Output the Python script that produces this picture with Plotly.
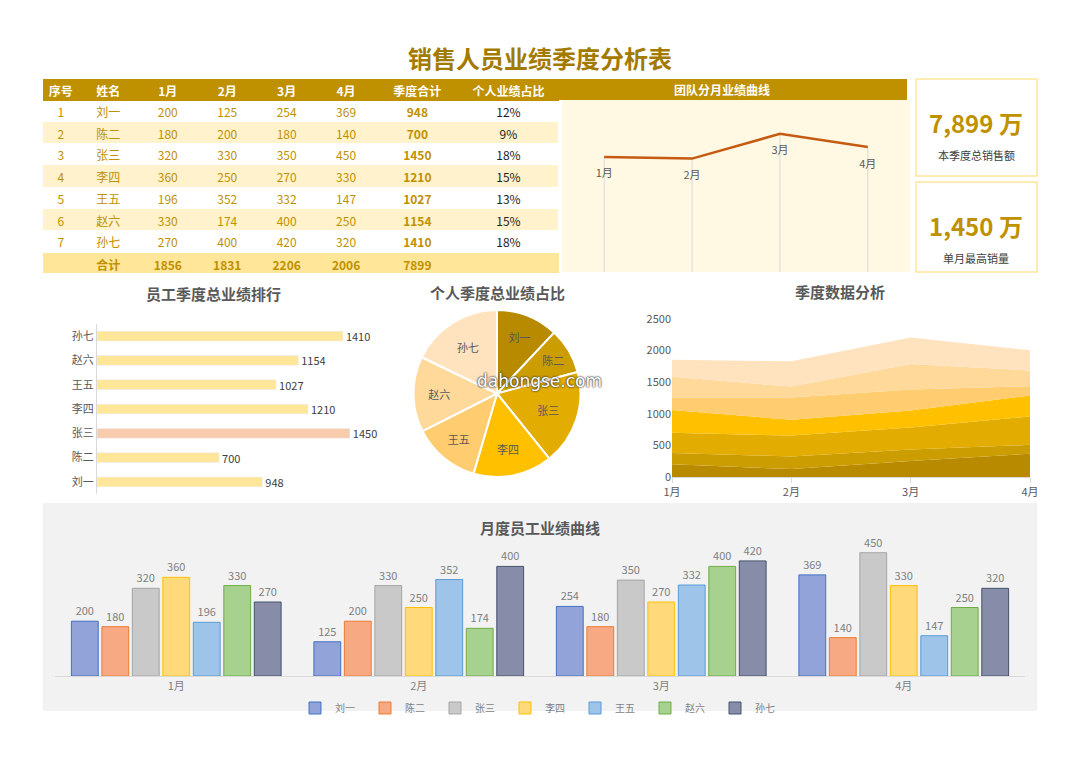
import plotly.graph_objects as go

# data
names = ["刘一", "陈二", "张三", "李四", "王五", "赵六", "孙七"]
months = ["1月", "2月", "3月", "4月"]
m1 = [200, 180, 320, 360, 196, 330, 270]
m2 = [125, 200, 330, 250, 352, 174, 400]
m3 = [254, 180, 350, 270, 332, 400, 420]
m4 = [369, 140, 450, 330, 147, 250, 320]
totals = [948, 700, 1450, 1210, 1027, 1154, 1410]
shares = ["12%", "9%", "18%", "15%", "13%", "15%", "18%"]
month_totals = [1856, 1831, 2206, 2006]
grand_total = 7899
top_single = 1450

W, H = 1080, 763
FONT = "Noto Sans CJK SC"
GOLD = "#BF9000"
TITLE_GOLD = "#A37A00"
GREY_T = "#7F7F7F"
OFF = 8  # page body margin

def px(x):
    return (x - OFF) / W

def py(y):
    return 1 - (y - OFF) / H

fig = go.Figure()

# ---- table ----
n = len(names)
cw = [36, 60, 60, 60, 60, 60, 84, 100]
cols = [[str(i + 1) for i in range(n)], names] + [[str(v) for v in m] for m in [m1, m2, m3, m4]]
cols += [[str(v) for v in totals], shares]
fills = ["white" if i % 2 == 0 else "#FFF2CC" for i in range(n)]
fig.add_trace(go.Table(
    domain=dict(x=[px(43), px(558)], y=[py(253), py(79)]),
    columnwidth=cw,
    header=dict(values=["序号", "姓名", "1月", "2月", "3月", "4月", "季度合计", "个人业绩占比"],
                fill_color=GOLD, line_color=GOLD, height=21,
                font=dict(color="white", size=12, family=FONT, weight="bold"), align="center"),
    cells=dict(values=cols, fill_color=[fills] * 8, line_color="rgba(0,0,0,0)", height=21.7,
               font=dict(color=[GOLD] * 7 + ["#222222"], size=12, family=FONT,
                         weight=["normal"] * 6 + ["bold", "normal"]), align="center"),
))
fig.add_trace(go.Table(
    domain=dict(x=[px(43), px(558)], y=[py(274), py(253)]),
    columnwidth=cw,
    header=dict(values=["", "合计"] + [str(v) for v in month_totals] + [str(grand_total), ""],
                fill_color="#FFE699", line_color="#FFE699", height=21,
                font=dict(color=GOLD, size=12, family=FONT, weight="bold"), align="center"),
    cells=dict(values=[[] for _ in cw]),
))

# ---- team line chart ----
fig.add_shape(type="rect", xref="paper", yref="paper", x0=px(558), x1=px(907), y0=py(100), y1=py(79),
              fillcolor=GOLD, line_width=0)
fig.add_shape(type="rect", xref="paper", yref="paper", x0=px(562), x1=px(910), y0=py(272), y1=py(100),
              fillcolor="#FFF9E3", line_width=0, layer="below")
fig.add_annotation(x=px(722), y=py(89), xref="paper", yref="paper", text="<b>团队分月业绩曲线</b>",
                   showarrow=False, xanchor="center", yanchor="middle",
                   font=dict(color="white", size=12, family=FONT))
for m, v in zip(months, month_totals):
    fig.add_trace(go.Scatter(x=[m, m], y=[0, v], mode="lines", line=dict(color="#D9D9D9", width=1),
                             xaxis="x2", yaxis="y2", showlegend=False, hoverinfo="skip"))
fig.add_trace(go.Scatter(x=months, y=month_totals, mode="lines",
                         line=dict(color="#C55A11", width=2.5), xaxis="x2", yaxis="y2", showlegend=False))
# month labels under each point (invisible marker pushes text down)
fig.add_trace(go.Scatter(x=months, y=month_totals, mode="markers+text", text=months,
                         marker=dict(size=18, color="rgba(0,0,0,0)"),
                         textposition="bottom center", textfont=dict(color="#595959", size=11, family=FONT),
                         xaxis="x2", yaxis="y2", showlegend=False, hoverinfo="skip"))

# ---- KPI boxes ----
for (y0, y1, val, lab) in [(79, 176, f"{grand_total:,} 万", "本季度总销售额"),
                           (182, 272, f"{top_single:,} 万", "单月最高销量")]:
    fig.add_shape(type="rect", xref="paper", yref="paper", x0=px(916), x1=px(1037), y0=py(y1), y1=py(y0),
                  line=dict(color="#FFE699", width=1.5), fillcolor="rgba(0,0,0,0)")
    fig.add_annotation(x=px(976), y=py(y0 + 43), xref="paper", yref="paper", text=f"<b>{val}</b>",
                       showarrow=False, xanchor="center", yanchor="middle",
                       font=dict(color=GOLD, size=24, family=FONT))
    fig.add_annotation(x=px(976), y=py(y0 + 76), xref="paper", yref="paper", text=lab,
                       showarrow=False, xanchor="center", yanchor="middle",
                       font=dict(color="#404040", size=11, family=FONT))

# ---- ranking bar ----
bar_colors = ["#F8CBAD" if v == max(totals) else "#FFE699" for v in totals]
fig.add_trace(go.Bar(y=names, x=totals, orientation="h", marker_color=bar_colors, width=0.4,
                     text=totals, textposition="outside", cliponaxis=False, constraintext="none",
                     textfont=dict(color="#404040", size=11, family=FONT),
                     xaxis="x3", yaxis="y3", showlegend=False))

# ---- pie ----
pie_colors = ["#B88A00", "#CC9D00", "#E2AC00", "#FFC000", "#FFCC70", "#FFD99A", "#FFE3BF"]
fig.add_trace(go.Pie(labels=names, values=totals, sort=False, direction="clockwise", rotation=0,
                     marker=dict(colors=pie_colors, line=dict(color="white", width=2)),
                     textinfo="label", textposition="inside", insidetextorientation="horizontal",
                     textfont=dict(color="#595959", size=11, family=FONT),
                     domain=dict(x=[px(405), px(589)], y=[py(477), py(310)]), showlegend=False))

# ---- stacked area ----
series = [m1, m2, m3, m4]
for i, nm in enumerate(names):
    fig.add_trace(go.Scatter(x=months, y=[s[i] for s in series], name=nm, stackgroup="one", mode="none",
                             fillcolor=pie_colors[i], xaxis="x4", yaxis="y4", showlegend=False))

# ---- monthly grouped bars ----
fig.add_shape(type="rect", xref="paper", yref="paper", x0=px(43), x1=px(1037), y0=py(711), y1=py(503),
              fillcolor="#F2F2F2", line_width=0, layer="below")
grp_colors = ["#91A3D8", "#F7A984", "#C9C9C9", "#FFD97A", "#9EC4EA", "#A6D18E", "#878CA8"]
grp_lines = ["#4472C4", "#ED7D31", "#A5A5A5", "#FFC000", "#5B9BD5", "#70AD47", "#44546A"]
for i, nm in enumerate(names):
    fig.add_trace(go.Bar(x=months, y=[s[i] for s in series], name=nm,
                         marker=dict(color=grp_colors[i], line=dict(color=grp_lines[i], width=1)),
                         text=[s[i] for s in series], textposition="outside", cliponaxis=False,
                         constraintext="none", textfont=dict(color=GREY_T, size=11, family=FONT),
                         xaxis="x5", yaxis="y5"))

# titles
for x, y, t, s in [(540, 57, "销售人员业绩季度分析表", 24), (213, 294, "员工季度总业绩排行", 15),
                   (497, 293, "个人季度总业绩占比", 15), (840, 291, "季度数据分析", 15),
                   (540, 527, "月度员工业绩曲线", 15)]:
    fig.add_annotation(x=px(x), y=py(y), xref="paper", yref="paper", text=f"<b>{t}</b>", showarrow=False,
                       yanchor="middle", xanchor="center",
                       font=dict(color=TITLE_GOLD if s > 20 else "#595959", size=s, family=FONT))
fig.add_annotation(x=px(539), y=py(381), xref="paper", yref="paper", text="dahongse.com", showarrow=False,
                   xanchor="center", yanchor="middle",
                   font=dict(color="white", size=17, family="DejaVu Sans",
                             shadow="0px 0px 2px #333, 0px 0px 2px #333"))

noax = dict(showgrid=False, zeroline=False, showticklabels=False, showline=False)
fig.update_layout(
    width=W, height=H, margin=dict(l=0, r=0, t=0, b=0, autoexpand=False),
    paper_bgcolor="white", plot_bgcolor="rgba(0,0,0,0)",
    font=dict(family=FONT),
    barmode="group", bargap=0.12, bargroupgap=0.12,
    xaxis2=dict(domain=[px(562), px(910)], range=[-0.48, 3.48], anchor="y2", **noax),
    yaxis2=dict(domain=[py(272), py(100)], range=[110, 2720], anchor="x2", **noax),
    xaxis3=dict(domain=[px(97), px(376)], range=[0, 1600], anchor="y3", **noax),
    yaxis3=dict(domain=[py(494), py(324)], anchor="x3", showgrid=False, zeroline=False, showline=True,
                linecolor="#D9D9D9", ticks="", tickfont=dict(color="#595959", size=11)),
    xaxis4=dict(domain=[px(672), px(1030)], anchor="y4", range=[0, 3], showgrid=False, showline=True,
                linecolor="#D9D9D9", ticks="outside", tickcolor="#D9D9D9", tickfont=dict(color="#595959", size=11)),
    yaxis4=dict(domain=[py(477), py(319)], anchor="x4", range=[0, 2500], dtick=500, showgrid=False,
                zeroline=False, tickfont=dict(color="#595959", size=11)),
    xaxis5=dict(domain=[px(55), px(1025)], anchor="y5", showgrid=False, showline=True, linecolor="#D9D9D9",
                tickfont=dict(color=GREY_T, size=11)),
    yaxis5=dict(domain=[py(676), py(539)], anchor="x5", range=[0, 500], **noax),
    legend=dict(orientation="h", x=px(540), xanchor="center", y=py(708), yanchor="middle",
                traceorder="normal", font=dict(color=GREY_T, size=10), bgcolor="rgba(0,0,0,0)",
                entrywidth=25, itemwidth=30, tracegroupgap=0),
)

fig.write_html("out.html")
